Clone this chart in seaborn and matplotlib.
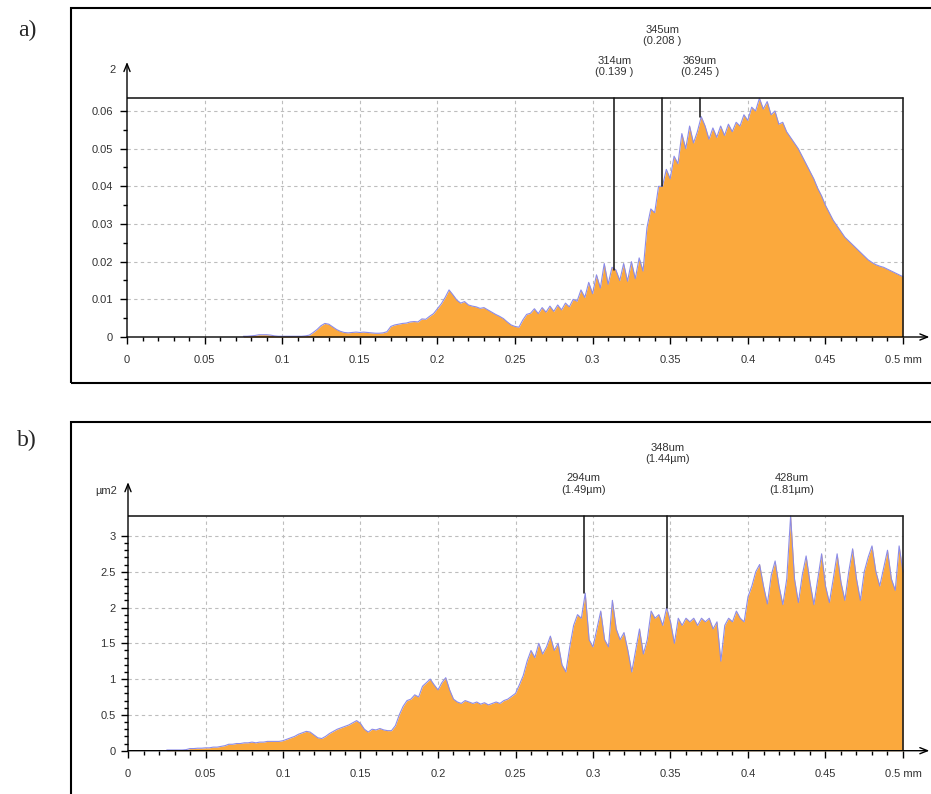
import matplotlib

matplotlib.use("Agg")
import matplotlib.pyplot as plt
from matplotlib.patches import Rectangle
import numpy as np
import pandas as pd
import seaborn as sns

sns.set_style("white")
plt.rcParams["font.family"] = ["Liberation Sans", "DejaVu Sans"]

FILL = "#FBA93D"
EDGE = "#8C8CE8"

# ---- panel a : profil relevé de 0.075 à 0.5 mm, pas de 0.0025 mm
a_start, a_step = 0.075, 0.0025
a_values = [
    0.0002, 0.0002, 0.0003, 0.0004, 0.0006, 0.0006, 0.0006, 0.0005, 0.0003, 0.0002,
    0.0002, 0.0002, 0.0002, 0.0002, 0.0002, 0.0002, 0.0003, 0.0005, 0.0012, 0.0020,
    0.0030, 0.0036, 0.0034, 0.0027, 0.0020, 0.0015, 0.0012, 0.0011, 0.0012, 0.0013,
    0.0012, 0.0013, 0.0012, 0.0011, 0.0010, 0.0010, 0.0011, 0.0014, 0.0028, 0.0032,
    0.0034, 0.0036, 0.0037, 0.0040, 0.0041, 0.0040, 0.0048, 0.0047, 0.0055, 0.0062,
    0.0075, 0.0088, 0.0105, 0.0125, 0.0112, 0.0098, 0.0090, 0.0094, 0.0085, 0.0082,
    0.0080, 0.0076, 0.0078, 0.0072, 0.0066, 0.0060, 0.0055, 0.0049, 0.0040, 0.0032,
    0.0028, 0.0026, 0.0045, 0.0060, 0.0063, 0.0075, 0.0062, 0.0078, 0.0066, 0.0082,
    0.0068, 0.0085, 0.0072, 0.0090, 0.0080, 0.0100, 0.0095, 0.0125, 0.0105, 0.0145,
    0.0115, 0.0165, 0.0130, 0.0195, 0.0140, 0.0185, 0.0178, 0.0150, 0.0195, 0.0148,
    0.0200, 0.0155, 0.0210, 0.0175, 0.0290, 0.0340, 0.0330, 0.0400, 0.0400, 0.0445,
    0.0420, 0.0480, 0.0460, 0.0540, 0.0500, 0.0560, 0.0515, 0.0545, 0.0585, 0.0560,
    0.0525, 0.0555, 0.0530, 0.0560, 0.0535, 0.0565, 0.0545, 0.0570, 0.0560, 0.0590,
    0.0575, 0.0610, 0.0600, 0.0634, 0.0605, 0.0625, 0.0590, 0.0600, 0.0565, 0.0570,
    0.0545, 0.0530, 0.0515, 0.0500, 0.0480, 0.0460, 0.0440, 0.0420, 0.0395, 0.0375,
    0.0350, 0.0330, 0.0310, 0.0295, 0.0280, 0.0265, 0.0255, 0.0245, 0.0235, 0.0225,
    0.0215, 0.0205, 0.0198, 0.0192, 0.0188, 0.0185, 0.0180, 0.0175, 0.0170, 0.0165,
    0.0160,
]
a_yticks = [0, 0.01, 0.02, 0.03, 0.04, 0.05, 0.06]
a_yticklabels = ["0", "0.01", "0.02", "0.03", "0.04", "0.05", "0.06"]
a_unit = "2"
a_markers = [0.314, 0.345, 0.369]
a_marker_labels = ["314um\n(0.139 )", "345um\n(0.208 )", "369um\n(0.245 )"]

# ---- panel b : profil relevé de 0.025 à 0.5 mm, pas de 0.0025 mm
b_start, b_step = 0.025, 0.0025
b_values = [
    0.01, 0.01, 0.01, 0.01, 0.01, 0.015, 0.03, 0.03, 0.035, 0.035,
    0.04, 0.04, 0.05, 0.05, 0.06, 0.07, 0.09, 0.09, 0.10, 0.10,
    0.11, 0.11, 0.12, 0.11, 0.12, 0.12, 0.13, 0.13, 0.13, 0.13,
    0.14, 0.16, 0.18, 0.20, 0.23, 0.25, 0.27, 0.26, 0.22, 0.18,
    0.17, 0.20, 0.24, 0.27, 0.30, 0.32, 0.34, 0.36, 0.39, 0.42,
    0.38, 0.30, 0.26, 0.30, 0.29, 0.31, 0.29, 0.28, 0.28, 0.35,
    0.50, 0.62, 0.70, 0.72, 0.78, 0.75, 0.90, 0.95, 1.00, 0.92,
    0.85, 0.95, 1.02, 0.85, 0.72, 0.68, 0.66, 0.70, 0.68, 0.66,
    0.68, 0.65, 0.67, 0.64, 0.66, 0.68, 0.66, 0.70, 0.72, 0.76,
    0.80, 0.92, 1.05, 1.25, 1.40, 1.30, 1.50, 1.35, 1.45, 1.60,
    1.40, 1.50, 1.20, 1.10, 1.45, 1.75, 1.90, 1.85, 2.20, 1.55,
    1.45, 1.70, 1.95, 1.55, 1.45, 2.10, 1.70, 1.55, 1.65, 1.40,
    1.10, 1.40, 1.70, 1.35, 1.55, 1.95, 1.85, 1.90, 1.75, 2.00,
    1.80, 1.50, 1.85, 1.75, 1.85, 1.80, 1.85, 1.75, 1.85, 1.80,
    1.85, 1.70, 1.80, 1.25, 1.75, 1.85, 1.80, 1.95, 1.85, 1.80,
    2.15, 2.30, 2.50, 2.60, 2.30, 2.05, 2.45, 2.65, 2.30, 2.04,
    2.40, 3.28, 2.40, 2.07, 2.45, 2.72, 2.35, 2.04, 2.40, 2.75,
    2.30, 2.07, 2.40, 2.75, 2.35, 2.10, 2.50, 2.82, 2.40, 2.10,
    2.50, 2.70, 2.86, 2.50, 2.30, 2.55, 2.80, 2.40, 2.24, 2.86,
    2.50,
]
b_yticks = [0, 0.5, 1, 1.5, 2, 2.5, 3]
b_yticklabels = ["0", "0.5", "1", "1.5", "2", "2.5", "3"]
b_unit = "µm2"
b_markers = [0.294, 0.348, 0.428]
b_marker_labels = ["294um\n(1.49µm)", "348um\n(1.44µm)", "428um\n(1.81µm)"]

x_ticks = [0, 0.05, 0.1, 0.15, 0.2, 0.25, 0.3, 0.35, 0.4, 0.45, 0.5]
x_ticklabels = ["0", "0.05", "0.1", "0.15", "0.2", "0.25", "0.3", "0.35",
                "0.4", "0.45", "0.5 mm"]


def make_profile(start, step, values):
    """Profil sous forme de DataFrame (position en mm, hauteur)."""
    x = start + step * np.arange(len(values))
    return pd.DataFrame({"x": x, "y": values})


def draw_panel(ax, df, yticks, yticklabels, yminor, ytip, unit, markers, labels, ypad):
    top = df["y"].max()

    # grille pointillée limitée au cadre
    for xv in x_ticks[1:-1]:
        ax.plot([xv, xv], [0, top], color="#BDBDBD", lw=0.8, ls=(0, (3, 3)), zorder=0)
    for yv in yticks[1:]:
        ax.plot([0, 0.5], [yv, yv], color="#BDBDBD", lw=0.8, ls=(0, (3, 3)), zorder=0)

    ax.fill_between(df["x"], 0, df["y"], color=FILL, lw=0, zorder=1)
    sns.lineplot(data=df, x="x", y="y", ax=ax, color=EDGE, lw=0.8, zorder=2)

    # cadre haut / droite
    ax.plot([0, 0.5], [top, top], color="#202020", lw=1.2, zorder=3)
    ax.plot([0.5, 0.5], [0, top], color="#202020", lw=1.2, zorder=3)

    # repères
    for i, (m, lab) in enumerate(zip(markers, labels)):
        idx = int(np.abs(df["x"].to_numpy() - m).argmin())
        ax.plot([m, m], [df["y"].iloc[idx], top], color="#101010", lw=1.1, zorder=3)
        off = 45 if i == 1 else 23
        ax.annotate(lab, xy=(m, top), xytext=(0, off), textcoords="offset points",
                    ha="center", va="center", fontsize=8, color="#333333",
                    linespacing=1.15, annotation_clip=False)

    # axes fléchés
    arrow = dict(arrowstyle="->,head_length=0.55,head_width=0.22", lw=1.0,
                 color="black", shrinkA=0, shrinkB=0)
    ax.annotate("", xy=(0.517, 0), xytext=(0, 0), arrowprops=arrow,
                annotation_clip=False)
    ax.annotate("", xy=(0, ytip), xytext=(0, 0), arrowprops=arrow,
                annotation_clip=False)
    ax.annotate(unit, xy=(0, ytip), xytext=(-8, -6), textcoords="offset points",
                ha="right", va="center", fontsize=8, color="#333333",
                annotation_clip=False)

    for s in ax.spines.values():
        s.set_visible(False)
    ax.set_xlim(0, 0.52)
    ax.set_ylim(0, ytip * 1.01)
    ax.set_xticks(x_ticks)
    ax.set_xticklabels(x_ticklabels)
    ax.set_xticks(np.arange(0, 0.51, 0.01), minor=True)
    ax.set_yticks(yticks)
    ax.set_yticklabels(yticklabels)
    ax.set_yticks(np.arange(0, yticks[-1] + yminor / 2, yminor), minor=True)
    ax.tick_params(which="both", bottom=True, left=True, direction="out",
                   color="black", width=1)
    ax.tick_params(which="major", length=5, labelsize=8, labelcolor="#333333")
    ax.tick_params(which="minor", length=3)
    ax.tick_params(axis="x", which="major", pad=8)
    ax.tick_params(axis="y", which="major", pad=ypad)
    ax.set_xlabel("")
    ax.set_ylabel("")


fig = plt.figure(figsize=(9.31, 7.94), dpi=100)

# cadres extérieurs
fig.add_artist(Rectangle((71 / 931, 1 - 383 / 794), 1.0, (383 - 8) / 794,
                         transform=fig.transFigure, fill=False, lw=1.5, ec="black"))
fig.add_artist(Rectangle((71 / 931, -0.05), 1.0, 0.05 + (794 - 422) / 794,
                         transform=fig.transFigure, fill=False, lw=1.5, ec="black"))
fig.text(27 / 931, 1 - 30 / 794, "a)", family="Liberation Serif", fontsize=17,
         ha="center", va="center")
fig.text(27 / 931, 1 - 440 / 794, "b)", family="Liberation Serif", fontsize=17,
         ha="center", va="center")

a_tip = 0.073
ax_a = fig.add_axes([127 / 931, (794 - 337) / 794, 0.52 * 1552 / 931,
                     a_tip * 1.01 * 3767 / 794])
draw_panel(ax_a, make_profile(a_start, a_step, a_values), a_yticks, a_yticklabels,
           0.005, a_tip, a_unit, a_markers, a_marker_labels, 5)

b_tip = 3.75
ax_b = fig.add_axes([128 / 931, (794 - 750.7) / 794, 0.52 * 1550 / 931,
                     b_tip * 1.01 * 71.6 / 794])
draw_panel(ax_b, make_profile(b_start, b_step, b_values), b_yticks, b_yticklabels,
           0.1, b_tip, b_unit, b_markers, b_marker_labels, 4)

fig.savefig("out.png", dpi=100)
plt.close(fig)
